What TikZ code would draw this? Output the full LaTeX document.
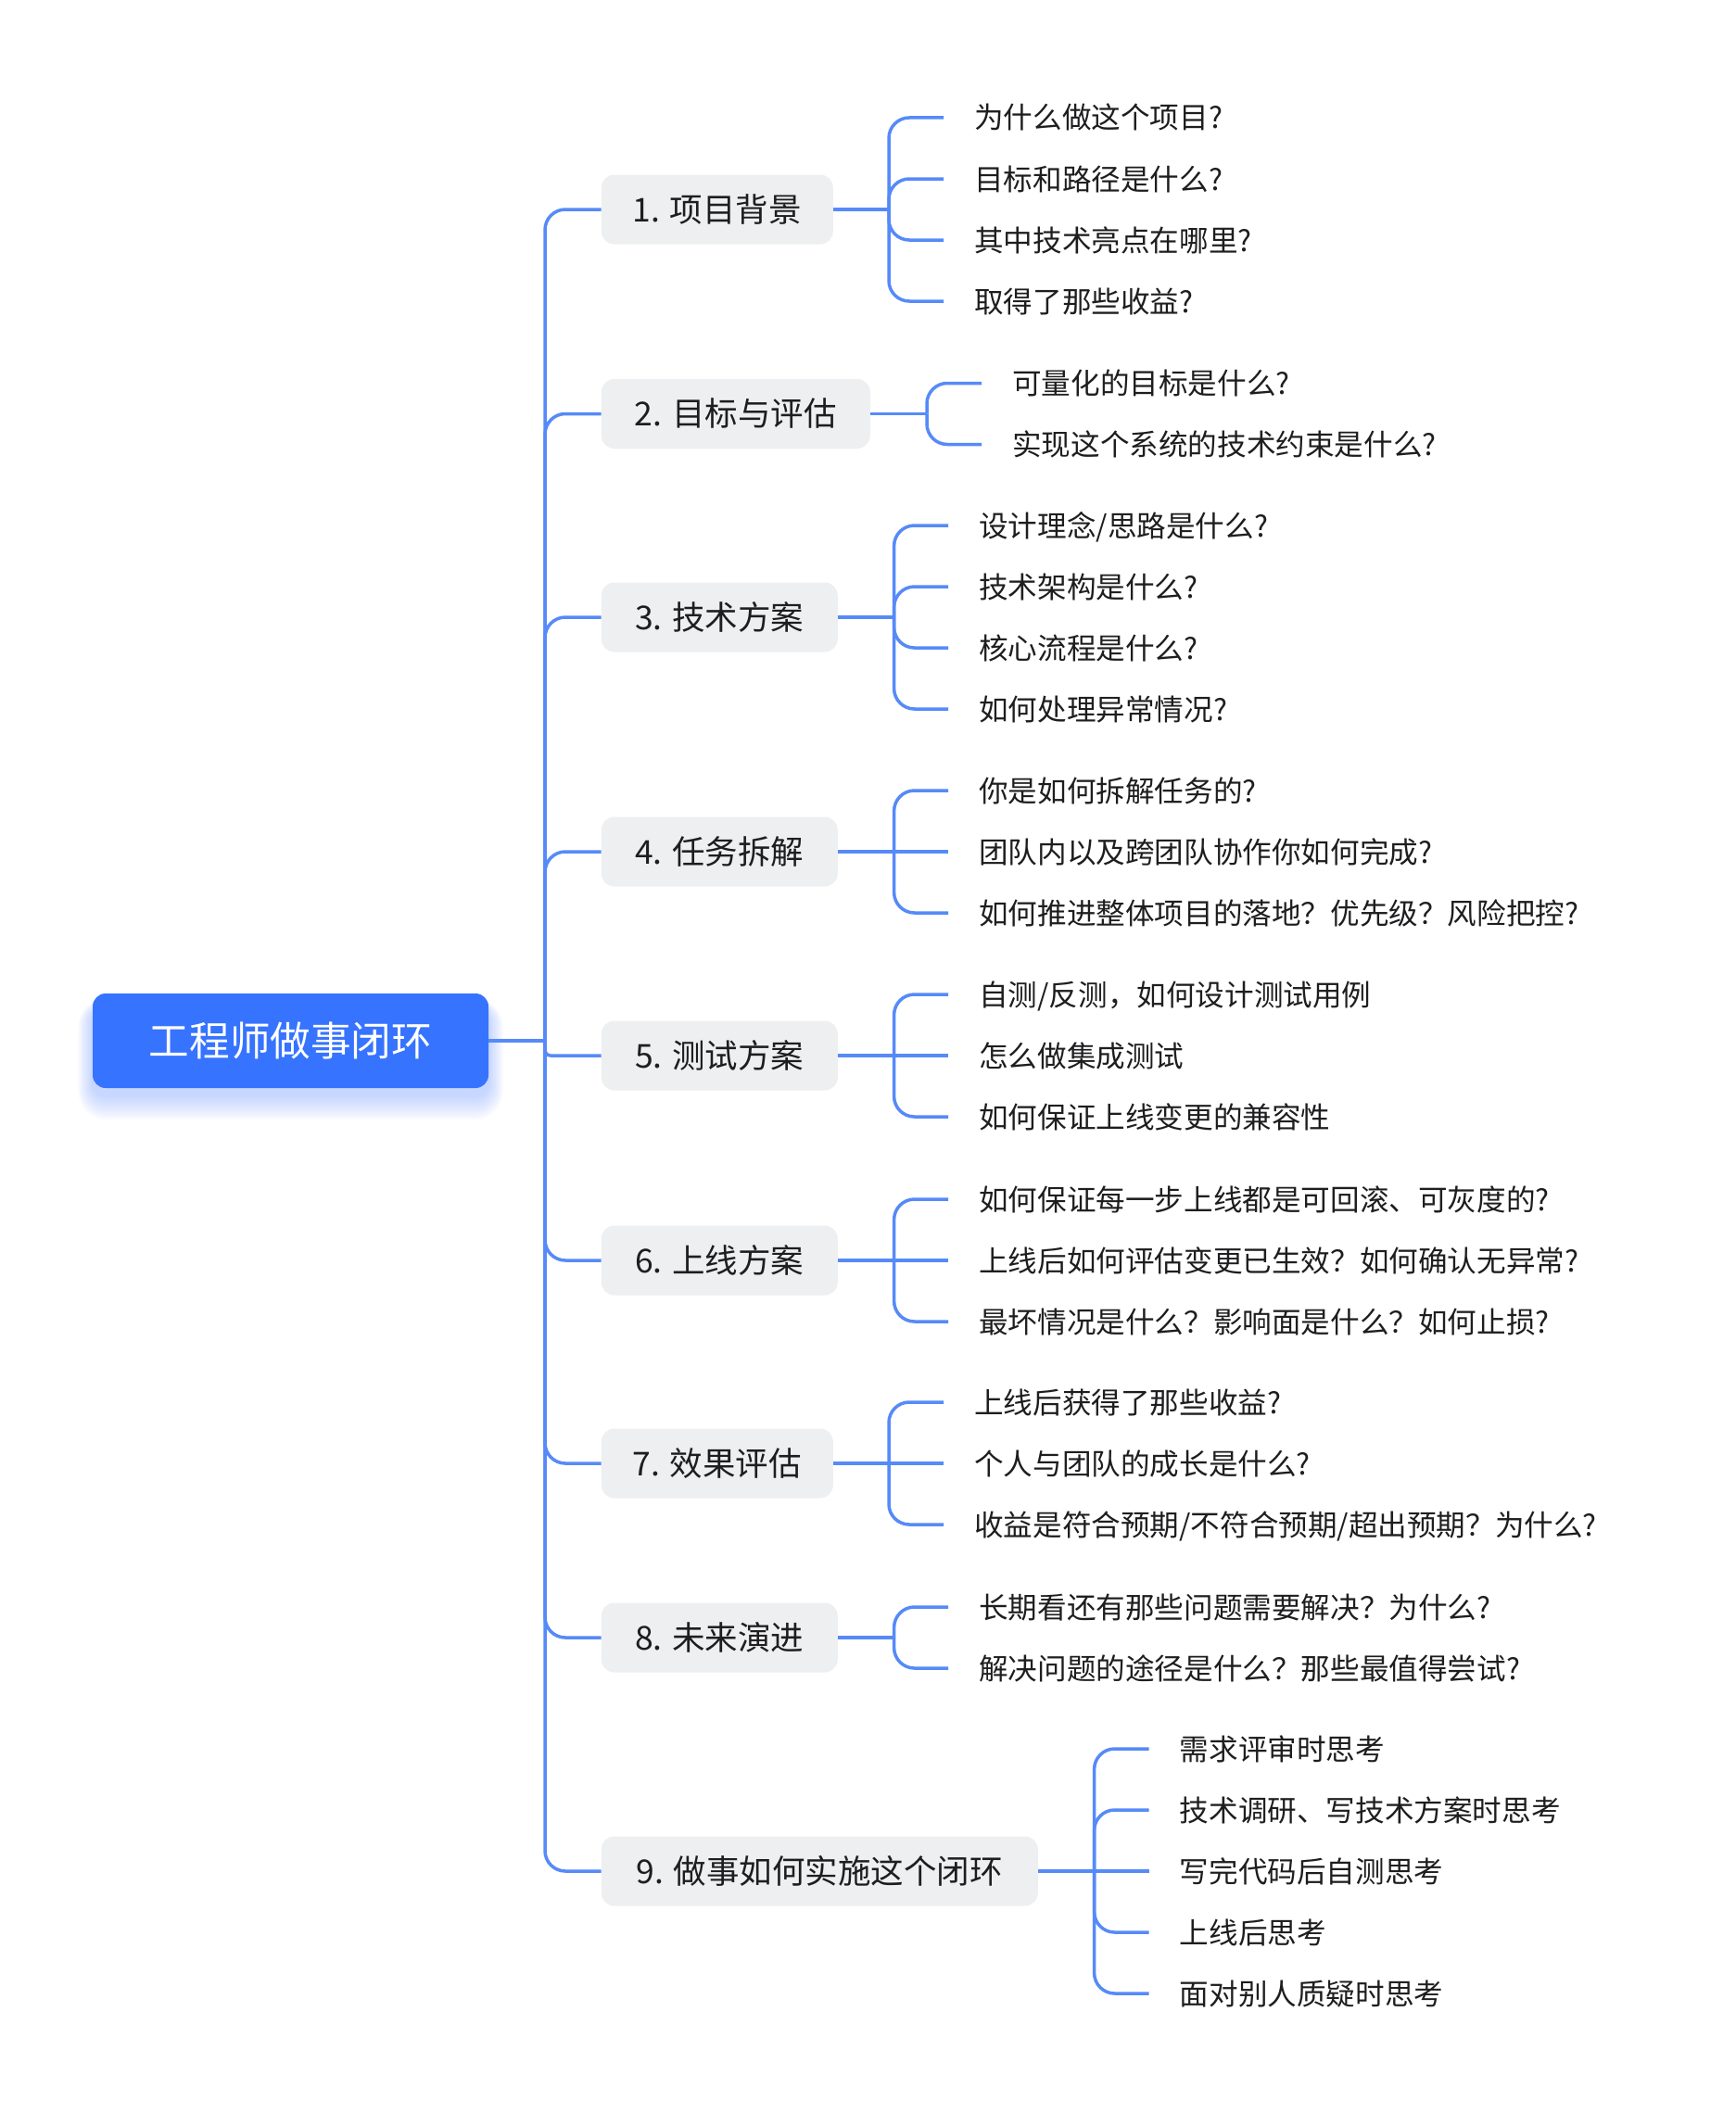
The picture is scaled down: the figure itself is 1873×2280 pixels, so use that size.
\documentclass[tikz,border=0pt]{standalone}
\usepackage{fontspec}
\setmainfont{Noto Sans CJK SC}
\usetikzlibrary{calc}
\definecolor{rootblue}{RGB}{54,115,255}
\definecolor{linkblue}{RGB}{86,138,248}
\definecolor{boxgrey}{RGB}{238,239,241}
\definecolor{txt}{RGB}{30,30,32}
\begin{document}
\begin{tikzpicture}[x=1pt,y=-1pt,
 rootbox/.style={fill=rootblue, rounded corners=14pt, minimum width=427pt, minimum height=102pt, text=white,
   font=\fontsize{43.6pt}{52pt}\selectfont, inner sep=0pt, text height=38.4pt, text depth=5.2pt},
 branchbox/.style={fill=boxgrey, rounded corners=14pt, minimum height=75pt, text=txt,
   font=\fontsize{35.5pt}{42pt}\selectfont, inner sep=0pt, anchor=west, text height=31.2pt, text depth=4.3pt},
 leaf/.style={anchor=west, text=txt, font=\fontsize{31.6pt}{38pt}\selectfont, inner xsep=33pt, inner ysep=0pt,
   text height=27.8pt, text depth=3.8pt},
 conn/.style={draw=linkblue, line width=3.5pt, rounded corners=22pt},
]
\path[use as bounding box, fill=white] (0,0) rectangle (1873,2280);

% glow of the root box
\foreach \i in {1,...,12} {
  \fill[rootblue, opacity=0.024, rounded corners=14pt+1.4*\i pt]
    (100-1.3*\i, 1088-0.9*\i) rectangle (527+1.3*\i, 1182+2.2*\i);
}
\node[rootbox] (root) at (313.5,1123) {工程师做事闭环};
\coordinate (J) at (588,1123);
\draw[conn] (root.east) -- (J);

% branches
\node[branchbox, minimum width=250pt] (b1) at (648.6,226) {1. 项目背景};
\node[branchbox, minimum width=290pt] (b2) at (648.6,446.5) {2. 目标与评估};
\node[branchbox, minimum width=255pt] (b3) at (648.6,666) {3. 技术方案};
\node[branchbox, minimum width=255pt] (b4) at (648.6,919) {4. 任务拆解};
\node[branchbox, minimum width=255pt] (b5) at (648.6,1139) {5. 测试方案};
\node[branchbox, minimum width=255pt] (b6) at (648.6,1360) {6. 上线方案};
\node[branchbox, minimum width=250pt] (b7) at (648.6,1579) {7. 效果评估};
\node[branchbox, minimum width=255pt] (b8) at (648.6,1767) {8. 未来演进};
\node[branchbox, minimum width=471pt] (b9) at (648.6,2019) {9. 做事如何实施这个闭环};

\foreach \b in {b1,b2,b3,b4,b6,b7,b8,b9} {
  \draw[conn] (J) -- (J |- \b.west) -- (\b.west);
}
\draw[conn, rounded corners=6pt] (J) -- (J |- b5.west) -- (b5.west);

% group 1
\coordinate (k1) at (959,226);
\node[leaf] (l11) at (1018,127) {为什么做这个项目?};
\node[leaf] (l12) at (1018,193) {目标和路径是什么?};
\node[leaf] (l13) at (1018,259) {其中技术亮点在哪里?};
\node[leaf] (l14) at (1018,325) {取得了那些收益?};
\draw[conn] (b1.east) -- (k1);
\foreach \l in {l11,l12,l13,l14} { \draw[conn] (k1) -- (k1 |- \l.west) -- (\l.west); }

% group 2
\coordinate (k2) at (1000,446.5);
\node[leaf] (l21) at (1059,413.5) {可量化的目标是什么?};
\node[leaf] (l22) at (1059,479.5) {实现这个系统的技术约束是什么?};
\draw[conn] (b2.east) -- (k2);
\foreach \l in {l21,l22} { \draw[conn] (k2) -- (k2 |- \l.west) -- (\l.west); }

% group 3
\coordinate (k3) at (964.6,666);
\node[leaf] (l31) at (1023,567) {设计理念/思路是什么?};
\node[leaf] (l32) at (1023,633) {技术架构是什么?};
\node[leaf] (l33) at (1023,699) {核心流程是什么?};
\node[leaf] (l34) at (1023,765) {如何处理异常情况?};
\draw[conn] (b3.east) -- (k3);
\foreach \l in {l31,l32,l33,l34} { \draw[conn] (k3) -- (k3 |- \l.west) -- (\l.west); }

% group 4
\coordinate (k4) at (964.6,919);
\node[leaf] (l41) at (1023,853) {你是如何拆解任务的?};
\node[leaf] (l42) at (1023,919) {团队内以及跨团队协作你如何完成?};
\node[leaf] (l43) at (1023,985) {如何推进整体项目的落地？优先级？风险把控?};
\draw[conn] (b4.east) -- (k4);
\draw[conn] (k4) -- (l42.west);
\foreach \l in {l41,l43} { \draw[conn] (k4) -- (k4 |- \l.west) -- (\l.west); }

% group 5
\coordinate (k5) at (964.6,1139);
\node[leaf] (l51) at (1023,1073) {自测/反测，如何设计测试用例};
\node[leaf] (l52) at (1023,1139) {怎么做集成测试};
\node[leaf] (l53) at (1023,1205) {如何保证上线变更的兼容性};
\draw[conn] (b5.east) -- (k5);
\draw[conn] (k5) -- (l52.west);
\foreach \l in {l51,l53} { \draw[conn] (k5) -- (k5 |- \l.west) -- (\l.west); }

% group 6
\coordinate (k6) at (964.6,1360);
\node[leaf] (l61) at (1023,1294) {如何保证每一步上线都是可回滚、可灰度的?};
\node[leaf] (l62) at (1023,1360) {上线后如何评估变更已生效？如何确认无异常?};
\node[leaf] (l63) at (1023,1426) {最坏情况是什么？影响面是什么？如何止损?};
\draw[conn] (b6.east) -- (k6);
\draw[conn] (k6) -- (l62.west);
\foreach \l in {l61,l63} { \draw[conn] (k6) -- (k6 |- \l.west) -- (\l.west); }

% group 7
\coordinate (k7) at (959,1579);
\node[leaf] (l71) at (1018,1513) {上线后获得了那些收益?};
\node[leaf] (l72) at (1018,1579) {个人与团队的成长是什么?};
\node[leaf] (l73) at (1018,1645) {收益是符合预期/不符合预期/超出预期？为什么?};
\draw[conn] (b7.east) -- (k7);
\draw[conn] (k7) -- (l72.west);
\foreach \l in {l71,l73} { \draw[conn] (k7) -- (k7 |- \l.west) -- (\l.west); }

% group 8
\coordinate (k8) at (964.6,1767);
\node[leaf] (l81) at (1023,1734) {长期看还有那些问题需要解决？为什么?};
\node[leaf] (l82) at (1023,1800) {解决问题的途径是什么？那些最值得尝试?};
\draw[conn] (b8.east) -- (k8);
\foreach \l in {l81,l82} { \draw[conn] (k8) -- (k8 |- \l.west) -- (\l.west); }

% group 9
\coordinate (k9) at (1180.6,2019);
\node[leaf] (l91) at (1239.6,1887) {需求评审时思考};
\node[leaf] (l92) at (1239.6,1953) {技术调研、写技术方案时思考};
\node[leaf] (l93) at (1239.6,2019) {写完代码后自测思考};
\node[leaf] (l94) at (1239.6,2085) {上线后思考};
\node[leaf] (l95) at (1239.6,2151) {面对别人质疑时思考};
\draw[conn] (b9.east) -- (k9);
\draw[conn] (k9) -- (l93.west);
\foreach \l in {l91,l92,l94,l95} { \draw[conn] (k9) -- (k9 |- \l.west) -- (\l.west); }
\end{tikzpicture}
\end{document}
